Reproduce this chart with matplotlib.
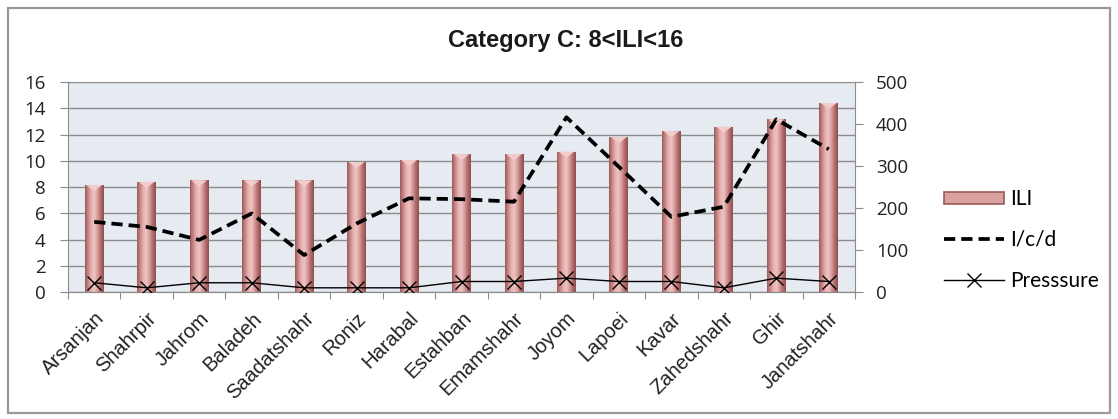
import numpy as np
import matplotlib
matplotlib.use("Agg")
import matplotlib.pyplot as plt
from matplotlib.patches import Rectangle, Polygon
from matplotlib.lines import Line2D
from matplotlib.colors import LinearSegmentedColormap

# ---- data ----
cities = ["Arsanjan", "Shahrpir", "Jahrom", "Baladeh", "Saadatshahr", "Roniz",
          "Harabal", "Estahban", "Emamshahr", "Joyom", "Lapoei", "Kavar",
          "Zahedshahr", "Ghir", "Janatshahr"]
ili = [8.15, 8.4, 8.5, 8.5, 8.5, 9.9, 10.05, 10.5, 10.5, 10.7, 11.8, 12.25,
       12.6, 13.15, 14.4]
icd = [167, 155, 124, 187, 88, 163, 223, 221, 215, 416, 298, 179, 203, 411, 340]
pressure = [22, 10, 22, 22, 10, 10, 10, 25, 25, 33, 25, 25, 10, 33, 25]

left_ticks = [0, 2, 4, 6, 8, 10, 12, 14, 16]
right_ticks = [0, 100, 200, 300, 400, 500]
series_names = ["ILI", "I/c/d", "Presssure"]

plt.rcParams["font.family"] = ["Liberation Sans", "DejaVu Sans"]

W, H = 1118, 419
fig = plt.figure(figsize=(W / 100, H / 100), dpi=100)
fig.patch.set_facecolor("white")

# outer chart frame
fig.add_artist(Rectangle((8 / W, 6 / H), 1102 / W, 405 / H, transform=fig.transFigure,
                         fill=False, edgecolor="#9a9a9a", linewidth=1.6))

ax = fig.add_axes([68 / W, 1 - 292 / H, (855 - 68) / W, (292 - 82) / H])
ax.set_facecolor("#E6EBF2")
ax2 = ax.twinx()

x = np.arange(len(cities))
ax.set_yticks(left_ticks)
ax2.set_yticks(right_ticks)
ax.yaxis.grid(True, color="#8c8c8c", linewidth=1.0)
ax.set_axisbelow(True)

# cylinder-like shading across each bar
shade = LinearSegmentedColormap.from_list(
    "cyl", ["#9c5a5a", "#c98787", "#e7b1b1", "#f0c4c4", "#d79a9a", "#b26c6c", "#8f4f4f"])
grad = np.linspace(0, 1, 64).reshape(1, -1)
bw = 0.36
bars = ax.bar(x, ili, width=bw, color="#D9A0A0", edgecolor="none", zorder=2)
for b in bars:
    x0, w, h = b.get_x(), b.get_width(), b.get_height()
    im = ax.imshow(grad, cmap=shade, aspect="auto", extent=(x0, x0 + w, 0, h),
                   zorder=2.1, interpolation="bilinear")
    im.set_clip_path(b)
    # lighter pointed cap on top
    cap = Polygon([(x0 + w * 0.08, h), (x0 + w * 0.92, h), (x0 + w * 0.5, h - 0.45)],
                  closed=True, facecolor="#f3cccc", edgecolor="none", zorder=2.2)
    ax.add_patch(cap)
ax.set_xlim(-0.5, len(cities) - 0.5)
ax.set_ylim(0, 16)
ax2.set_ylim(0, 500)

ax2.plot(x, icd, color="black", linestyle=(0, (3.0, 1.6)), linewidth=2.7, zorder=3)
ax2.plot(x, pressure, color="black", linewidth=1.0, marker="x", markersize=10,
         markeredgewidth=1.0, zorder=3)

# categories ticks sit between bars
ax.set_xticks(np.arange(-0.5, len(cities), 1.0), minor=False)
ax.set_xticklabels([])
ax.set_xticks(x, minor=True)
ax.set_xticklabels(cities, minor=True, rotation=45, ha="right",
                   rotation_mode="anchor", fontsize=14.5, color="#222222")
ax.tick_params(axis="x", which="major", length=5, color="#8c8c8c", direction="out")
ax.tick_params(axis="x", which="minor", length=0, pad=12)
ax.tick_params(axis="y", length=6, color="#8c8c8c", labelsize=13.5,
               labelcolor="#222222", pad=10)
ax2.tick_params(axis="y", length=6, color="#8c8c8c", labelsize=13.5,
                labelcolor="#222222", pad=9)
for a in (ax, ax2):
    for lab in a.get_yticklabels():
        lab.set_family(["Open Sans", "DejaVu Sans"])

for a in (ax, ax2):
    for s in a.spines.values():
        s.set_visible(False)
    a.spines["bottom"].set_visible(True)
    a.spines["bottom"].set_color("#8c8c8c")
ax.spines["left"].set_visible(True)
ax.spines["left"].set_color("#8c8c8c")
ax2.spines["right"].set_visible(True)
ax2.spines["right"].set_color("#8c8c8c")

fig.text(566 / W, 1 - 47 / H, "Category C: 8<ILI<16", ha="center", va="baseline",
         fontsize=17, fontweight="bold", color="#1a1a1a")

handles = [Rectangle((0, 0), 1, 1, facecolor="#D9A0A0", edgecolor="#9c5a5a", linewidth=1.2),
           Line2D([], [], color="black", linestyle=(0, (3.0, 1.6)), linewidth=2.7),
           Line2D([], [], color="black", linewidth=1.0, marker="x", markersize=10)]
leg = fig.legend(handles, series_names, loc="center left",
                 bbox_to_anchor=(925 / W, 1 - 240 / H), frameon=False,
                 handlelength=2.9, handleheight=0.5, labelspacing=1.0, handletextpad=0.3,
                 prop={"family": ["Lato", "DejaVu Sans"], "size": 15})

fig.savefig("out.png", dpi=100, facecolor="white")
